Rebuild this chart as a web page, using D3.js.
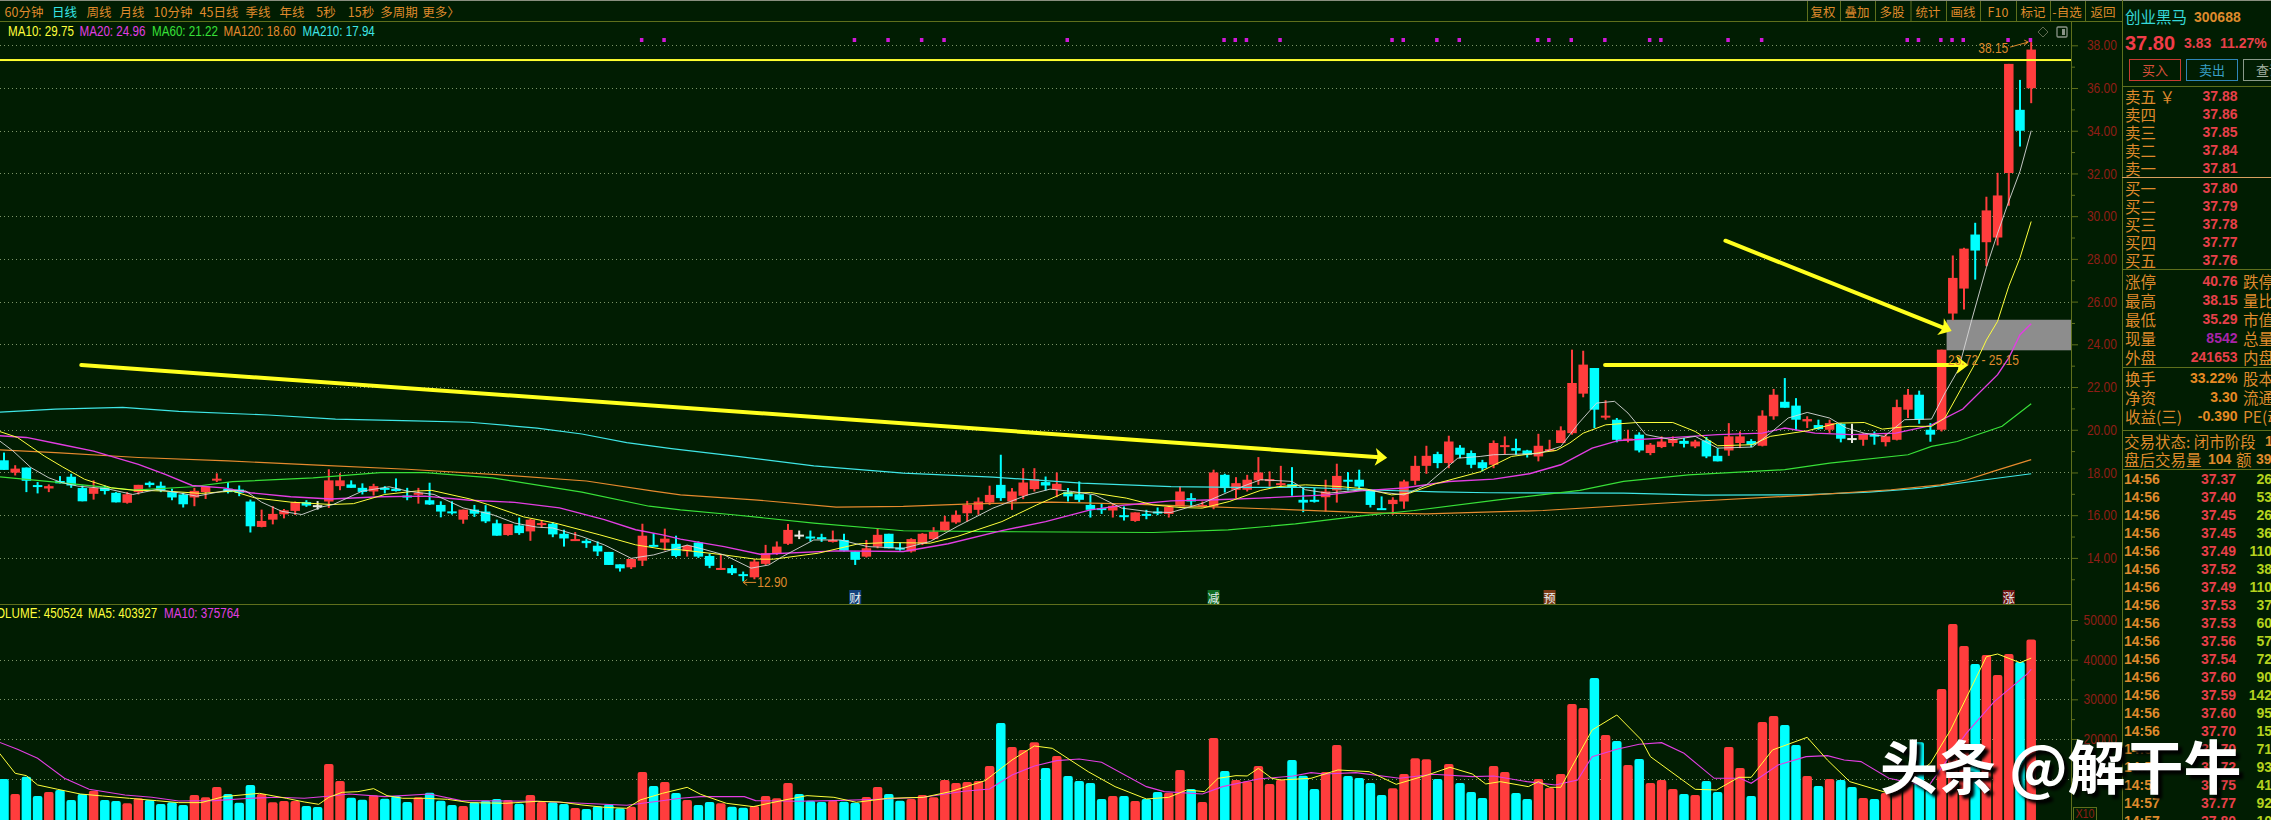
<!DOCTYPE html>
<html>
<head>
<meta charset="utf-8">
<script src="https://cdn.jsdelivr.net/npm/d3@7.9.0/dist/d3.min.js"></script>
<style>
  html, body { margin: 0; padding: 0; background: #011d02; overflow: hidden; }
  svg { display: block; }
  text { white-space: pre; }
</style>
</head>
<body>
<svg id="chart" width="2271" height="820"></svg>
<script>
// [high, body top, body bottom, low, direction] 1 = up, -1 = down, 0 = doji
const candleRows = [
  [18.93,18.57,18.12,18.12,-1],[18.34,18.18,17.99,17.86,1],[18.23,18.23,17.61,17.08,-1],[17.55,17.41,17.33,17.02,-1],
  [17.44,17.36,17.25,17.08,1],[17.83,17.6,17.49,17.49,-1],[17.94,17.8,17.39,17.28,-1],[17.39,17.27,16.65,16.65,-1],
  [17.63,17.27,17.0,16.73,1],[17.39,17.3,17.13,16.97,-1],[17.08,17.05,16.6,16.6,-1],[17.08,16.98,16.58,16.54,1],
  [17.42,17.42,17.08,16.97,1],[17.58,17.52,17.41,17.3,-1],[17.57,17.38,17.16,17.08,-1],[17.24,17.08,16.83,16.7,-1],
  [17.05,16.97,16.51,16.36,-1],[17.28,17.14,16.83,16.42,1],[17.36,17.33,17.08,16.76,1],[17.96,17.71,17.66,17.55,1],
  [17.55,17.24,17.08,17.02,-1],[17.39,17.2,17.05,16.89,-1],[16.73,16.64,15.48,15.19,-1],[16.26,15.73,15.45,15.43,1],
  [16.42,16.06,15.79,15.57,1],[16.29,16.23,16.04,15.85,1],[16.64,16.61,16.2,16.01,1],[16.7,16.61,16.45,16.39,-1],
  [16.66,16.47,16.4,16.26,0],[18.15,17.63,16.64,16.34,1],[17.96,17.63,17.36,17.17,1],[17.63,17.44,17.28,17.28,-1],
  [17.49,17.28,17.09,16.97,-1],[17.47,17.36,17.11,16.92,1],[17.36,17.28,17.2,17.02,-1],[17.72,17.24,17.13,17.11,-1],
  [17.28,16.92,16.87,16.7,-1],[17.28,17.05,17.0,16.54,1],[17.52,16.7,16.5,16.48,-1],[16.65,16.48,16.17,15.9,-1],
  [16.65,16.18,16.13,16.03,-1],[16.26,16.26,15.79,15.6,1],[16.48,16.26,16.07,15.92,-1],[16.47,16.17,15.71,15.63,-1],
  [15.79,15.62,15.04,15.04,-1],[15.59,15.59,15.07,15.04,1],[15.89,15.52,15.16,15.08,-1],[15.82,15.79,15.24,14.8,1],
  [15.76,15.63,15.54,15.41,1],[15.68,15.6,15.1,14.97,-1],[15.32,15.13,14.91,14.53,-1],[15.21,14.88,14.83,14.79,1],
  [14.88,14.8,14.69,14.47,-1],[14.77,14.57,14.3,14.09,-1],[14.28,14.28,13.67,13.67,-1],[13.7,13.7,13.51,13.36,-1],
  [13.98,13.95,13.56,13.48,1],[15.6,15.04,13.87,13.62,1],[15.16,14.61,14.57,14.57,-1],[15.37,14.9,14.72,14.35,1],
  [15.04,14.66,14.09,14.03,-1],[14.61,14.57,14.31,14.06,1],[14.77,14.72,14.06,14.0,-1],[14.2,14.09,13.63,13.52,-1],
  [14.14,13.53,13.47,13.44,1],[13.67,13.52,13.28,13.2,-1],[13.36,13.24,13.2,12.9,-1],[13.94,13.83,13.09,13.0,1],
  [14.61,14.22,13.72,13.67,1],[14.77,14.53,14.22,14.14,1],[15.59,15.31,14.66,14.61,1],[15.28,15.09,15.06,14.88,0],
  [15.28,15.0,14.95,14.77,-1],[15.13,14.97,14.89,14.75,-1],[15.28,14.84,14.78,14.72,1],[15.13,14.84,14.33,14.3,-1],
  [14.3,14.3,13.91,13.67,-1],[14.84,14.45,14.06,14.02,1],[15.39,15.08,14.53,14.45,1],[15.13,15.13,14.45,14.45,-1],
  [14.72,14.48,14.41,14.34,-1],[14.92,14.88,14.3,14.25,1],[15.16,15.13,14.66,14.6,1],[15.44,15.23,14.88,14.84,1],
  [15.97,15.7,15.28,15.23,1],[16.22,16.02,15.66,15.6,1],[16.67,16.48,16.09,15.7,1],[16.83,16.64,16.25,16.02,1],
  [17.38,16.95,16.59,16.48,1],[18.83,17.42,16.8,16.67,-1],[17.27,17.11,16.64,16.25,1],[18.2,17.53,16.91,16.75,1],
  [18.2,17.69,17.22,17.11,1],[17.81,17.55,17.39,17.16,-1],[18.0,17.47,17.19,16.84,1],[17.27,17.08,16.88,16.64,-1],
  [17.58,16.98,16.72,16.61,-1],[16.95,16.48,16.25,15.89,-1],[16.53,16.33,16.25,16.06,-1],[16.56,16.44,16.22,15.89,1],
  [16.41,16.0,15.94,15.75,-1],[16.13,16.13,15.73,15.69,1],[16.25,16.06,16.0,15.81,-1],[16.36,16.17,16.09,16.0,-1],
  [16.44,16.38,16.06,15.89,1],[17.34,17.11,16.41,16.41,1],[17.03,16.8,16.64,16.41,-1],[16.64,16.48,16.41,16.36,1],
  [18.13,18.0,16.41,16.28,1],[17.94,17.89,17.27,17.06,-1],[17.78,17.5,17.19,16.8,1],[17.89,17.66,17.19,17.11,1],
  [18.72,18.0,17.63,17.42,1],[18.05,17.69,17.63,17.34,1],[18.31,17.5,17.42,17.34,1],[18.25,17.45,17.3,16.91,-1],
  [17.3,16.72,16.59,16.14,-1],[17.27,16.72,16.64,16.59,-1],[17.66,17.11,16.84,16.17,1],[18.41,17.84,17.16,16.59,1],
  [18.02,17.66,17.58,17.16,-1],[18.13,17.66,17.34,17.19,-1],[17.19,17.19,16.48,16.36,-1],[16.88,16.33,16.25,16.25,-1],
  [16.84,16.72,16.52,16.02,1],[17.66,17.58,16.64,16.3,1],[18.78,18.31,17.61,17.42,1],[19.25,18.78,18.31,17.94,1],
  [18.97,18.86,18.44,18.2,-1],[19.72,19.45,18.44,18.2,1],[19.28,19.16,18.83,18.67,-1],[19.03,18.91,18.36,18.2,-1],
  [18.59,18.48,18.2,18.05,-1],[19.5,19.38,18.36,18.2,1],[19.69,19.28,19.22,18.86,1],[19.58,19.14,19.02,18.83,-1],
  [19.06,19.03,18.83,18.7,-1],[19.81,19.25,18.75,18.52,1],[19.53,19.09,19.03,19.03,1],[20.16,19.97,19.38,19.38,1],
  [23.75,22.19,19.84,19.77,1],[23.7,23.05,21.69,21.52,1],[22.89,22.89,20.94,20.08,-1],[21.38,20.66,20.59,20.47,1],
  [20.55,20.47,19.53,19.41,-1],[20.0,19.59,19.53,19.41,1],[19.88,19.77,19.03,18.94,-1],[19.38,19.3,18.91,18.81,1],
  [19.69,19.45,19.19,19.14,1],[19.69,19.56,19.38,19.22,1],[19.61,19.48,19.34,19.17,-1],[19.53,19.45,19.22,19.14,1],
  [19.66,19.5,18.75,18.67,-1],[19.14,18.78,18.52,18.52,-1],[20.31,19.69,19.03,18.78,1],[19.92,19.69,19.38,19.14,1],
  [19.56,19.47,19.3,19.19,-1],[20.91,20.66,19.25,19.22,1],[21.91,21.64,20.63,20.47,1],[22.42,21.31,21.03,21.03,-1],
  [21.48,21.13,20.47,19.97,-1],[20.63,20.5,20.39,20.08,1],[20.47,20.22,20.03,20.0,-1],[20.47,20.31,20.0,19.84,1],
  [20.31,20.28,19.58,19.41,-1],[20.28,19.61,19.56,19.38,0],[19.84,19.81,19.53,19.25,1],[19.92,19.77,19.69,19.3,-1],
  [19.84,19.69,19.42,19.22,1],[21.41,21.06,19.53,19.5,1],[21.91,21.64,20.94,20.55,1],[21.83,21.64,20.47,20.28,-1],
  [20.31,20.0,19.77,19.44,-1],[23.75,23.75,20.0,19.92,1],[28.16,27.11,25.44,25.13,1],[28.52,28.48,26.61,25.63,1],
  [29.69,29.14,28.39,27.03,-1],[30.91,30.27,28.78,27.66,1],[32.03,30.97,29.0,28.63,1],[37.13,37.13,32.02,30.49,1],
  [36.38,34.98,34.0,33.26,-1],[38.15,37.8,35.99,35.29,1]
];

const volumes = [
  9915,6134,10504,5630,6638,7143,4622,6134,6975,4622,4370,3781,5042,4622,3613,4034,3361,5882,5294,7899,
  6134,3949,8403,6134,4034,4370,4370,3109,2857,13697,9411,5210,4706,5798,4958,5630,4118,5294,6470,4454,
  3361,3109,4034,4454,4874,4622,3697,5882,4118,4034,3613,2605,2353,3025,3529,2521,2941,11680,8151,9159,
  6386,4622,3361,4118,3781,2941,2689,3109,5630,5042,8907,6134,4454,4118,4454,4202,3949,5378,7899,6134,
  4454,4874,5882,5294,9663,8907,9159,9411,13193,24033,17983,17226,19159,12689,15714,10672,9411,8907,4874,5630,
  5630,4370,4874,6638,6470,12185,7395,4118,20252,11933,9663,9327,13193,8655,9747,14705,10756,7395,11680,18487,
  10672,10168,8907,5882,7563,11176,15126,14873,9915,13697,8907,6638,5126,13193,11680,6386,4874,9915,7647,11176,
  28822,27815,35378,21008,19495,13445,14957,8907,9663,7395,6134,5882,9411,6638,17983,12689,5630,24285,25797,23529,
  18487,10672,8151,9915,9663,7899,5126,4874,6386,7311,9663,19159,7143,32604,48990,43444,38906,41175,36133,41427,
  39410,45052
];

// moving averages: [day index, value]
const ma5Line = [[-0.4,19.48],[0.8,19.01],[2.4,18.23],[4,17.75],[5.2,17.52],[6.6,17.36],[9.2,17.24],[11.5,16.97],[13.6,17.2],[15.6,17.05],[17.2,16.89],[20,17.17],[21.6,17.13],[23,16.61],[24.8,16.18],[26.6,16.03],[28.4,16.39],[29.4,16.5],[32,17.13],[34.4,17.33],[36,17.13],[38.4,16.97],[41,16.34],[43.6,16.03],[45.6,15.63],[47.6,15.44],[49,15.4],[51.6,15],[53.6,14.61],[56,13.98],[58,14.14],[59.6,14.38],[61,14.6],[62.5,14.4],[64.3,14.14],[66.7,13.52],[68.3,13.67],[69.5,14.06],[72.3,14.84],[74.7,14.84],[77.1,14.53],[80.3,14.45],[82.7,14.77],[85.1,15.47],[88.3,16.33],[91.4,16.95],[93.4,17.22],[95.4,17.11],[97.4,16.95],[99.8,16.33],[102.6,16.14],[104.2,16.13],[107,16.56],[109.8,17.19],[112.2,17.66],[115,17.58],[116.2,17.19],[118.2,17.03],[121.3,17.19],[125,16.95],[127,17.42],[129.8,18.67],[131.8,18.75],[133,18.83],[137,18.88],[139,19.22],[140.6,20.31],[142.2,21.25],[143.8,21.33],[145,20.78],[146.6,19.77],[149,19.53],[151,19.69],[153,19.14],[156.1,19.19],[157.7,19.84],[159.3,20.55],[161,20.81],[163,20.55],[164.5,20.08],[166.1,19.84],[167.9,19.69],[169.7,20.47],[172.1,20.5],[173.3,21.72],[174.5,22.81],[175.7,25.16],[177,27.6],[178,29.2],[179,30.7],[180,32.1],[181,34]];
const ma10Line = [[-0.4,19.92],[1.2,19.64],[3.6,18.77],[5.2,18.27],[7.2,17.68],[9.6,17.28],[11.6,17.17],[14.4,17.13],[17.6,17.02],[20.4,17.13],[22.4,16.81],[25.6,16.61],[29.2,16.5],[31.2,16.54],[34,16.97],[36.8,17.13],[38.2,17.16],[41.6,16.76],[43.2,16.5],[46.4,15.92],[49.2,15.63],[53.2,15.08],[56.4,14.61],[58.8,14.41],[60.4,14.38],[64.3,14.14],[67.1,13.94],[68.7,13.94],[72.7,14.22],[76.3,14.66],[79,14.72],[82.7,14.69],[85.1,15],[89.1,15.7],[92.2,16.48],[94.6,17.03],[97,17.06],[100.2,16.8],[102.6,16.48],[105,16.36],[107,16.33],[109.4,16.64],[112.2,17.16],[113.8,17.34],[116.2,17.42],[119.3,17.34],[121.7,17.22],[123.9,16.95],[125.5,17.03],[127.8,17.47],[131.8,18.03],[134.6,18.75],[138.6,19.03],[139.8,19.38],[141,19.84],[143,20.23],[145.8,20.34],[149,20.34],[151,19.92],[153,19.25],[156.1,19.3],[157.7,19.69],[161,19.95],[163.7,20.31],[166.1,20.34],[167.7,20.03],[170.1,20.16],[172.1,20.16],[173.3,20.55],[176.2,23.3],[177,24.2],[178,25.08],[179,26.72],[180,28.05],[181,29.75]];
const ma20Line = [[-0.4,19.72],[2,19.64],[5,19.32],[8,19.0],[12,18.38],[14.4,17.91],[16.8,17.39],[19.6,17.28],[22,17.05],[25.6,16.86],[29.2,16.76],[33.6,16.86],[37.6,16.89],[41.6,16.7],[45.6,16.6],[49.6,16.34],[53.6,15.79],[56.4,15.32],[58.8,15.08],[60.4,14.88],[64.3,14.53],[67.5,14.17],[74.3,14.33],[80.3,14.3],[84.3,14.66],[89.1,15.28],[93,15.7],[97,16.25],[100.2,16.48],[104.2,16.67],[108.2,16.72],[112.2,16.8],[118.2,16.95],[121.1,17.14],[125,17.27],[129,17.58],[133,17.69],[136.2,17.94],[139,18.36],[141.8,19.14],[144.2,19.5],[148.2,19.61],[153,19.77],[157,19.84],[159,20.08],[161.7,19.84],[164.9,19.77],[168.9,19.84],[172,20.19],[174.9,20.97],[178,22.58],[179,23.36],[180,24.45],[181,24.96]];
const ma60Line = [[-0.4,17.8],[4.6,17.55],[11.6,17.17],[16.8,17.33],[20.4,17.57],[27.6,17.75],[33.6,17.99],[37.6,17.99],[43.6,17.75],[51.6,17.08],[57.6,16.42],[60.4,16.25],[65.1,16.02],[72.3,15.63],[80.3,15.27],[88.3,15.23],[102.6,15.19],[109.3,15.31],[115.3,15.59],[121.4,15.98],[125.9,16.22],[133.4,16.72],[140.7,17.16],[144.6,17.58],[150.4,17.89],[159,18.13],[163,18.44],[170,18.83],[172.1,19.22],[174.4,19.45],[178.4,20.16],[181,21.22]];
const ma120Line = [[-0.4,19.06],[4.6,18.93],[12,18.7],[20,18.54],[28,18.34],[36,18.15],[44,17.9],[52,17.6],[58,17.13],[60.4,16.95],[67,16.72],[74.3,16.38],[80.3,16.41],[86.4,16.53],[93.5,16.61],[100,16.53],[106.6,16.41],[115.3,16.25],[122,16.11],[127,16.06],[131.4,16.13],[137.4,16.22],[150.5,16.64],[160.5,16.92],[168.5,17.19],[172.9,17.42],[175.3,17.66],[177.6,18.05],[181,18.6]];
const ma210Line = [[-0.4,20.82],[4.6,20.97],[10.6,21.05],[15.6,20.86],[23.6,20.69],[29.6,20.5],[36.6,20.42],[41.6,20.35],[47.6,20.08],[51.6,19.8],[55.6,19.4],[59.6,19.12],[65.1,18.78],[72.3,18.31],[80.3,17.97],[88.3,17.78],[96.2,17.5],[104.2,17.34],[110.2,17.3],[116.2,17.3],[121.4,17.19],[128,17.09],[132.6,17.05],[144.6,17.03],[151.8,16.94],[160.5,16.95],[166.5,17.08],[171.3,17.27],[176.9,17.66],[181,17.94]];
const volMa5Line = [[-0.4,16386],[1,11344],[2,10756],[3,8403],[4.8,7311],[6.8,6134],[8.8,5630],[11.2,5042],[13.6,4454],[15.6,3949],[17.6,3949],[19.6,5462],[22.8,6302],[25.2,5042],[26.8,4118],[28.1,3529],[29,5294],[30.2,6554],[31.6,6722],[33,7479],[34.2,5714],[35.6,5042],[37.6,5042],[39.6,4790],[41.6,3949],[44.8,3781],[47.6,4286],[49.6,4118],[51.6,3361],[53.6,2773],[55.6,2521],[56.8,4622],[58.8,6302],[61,7815],[62.2,6050],[64.5,3781],[66.9,2941],[69.7,4622],[71.7,5714],[74.1,5294],[76.1,4034],[78.9,5042],[82.1,5294],[84.5,6722],[87.6,9495],[90,14705],[92,18234],[93.6,17646],[96.8,11764],[99.2,7983],[102,4874],[104,5294],[105.6,7143],[107.2,6722],[108.4,10084],[110,10756],[111,10672],[112,12605],[113.2,10084],[114,9663],[116.7,10084],[119.1,12185],[121.9,11764],[124.3,8571],[127.1,10924],[129.1,12857],[131.1,11176],[132.3,8655],[133.6,9243],[136.1,7983],[137,9243],[138,7815],[139,7815],[140,13025],[141.8,22268],[144,26050],[146.2,19747],[147,15546],[151,7311],[152.9,7143],[154.9,10336],[156,10336],[157.9,17226],[161,20419],[162.8,14705],[164.8,9243],[168,6554],[170.8,11344],[172,13865],[173.8,22268],[177,40754],[178,41427],[180,39242],[181,40393]];
const volMa10Line = [[-0.4,19159],[1.2,17394],[3,15126],[5.4,10084],[7.6,7311],[10.8,5882],[13.2,5294],[15.6,4370],[18.8,4454],[22,5042],[24.4,5294],[26.8,5042],[29.2,5630],[30.8,6134],[34,5462],[38,6134],[40.8,4454],[47.6,4286],[51.6,3781],[55.6,3277],[58.4,4286],[60.4,5042],[62.2,5462],[66.1,5462],[67.1,4454],[70.9,4286],[74.1,4454],[78.1,4790],[82.1,5294],[85.7,6806],[88,7395],[90,10924],[92,13193],[94,14537],[96,14957],[98,14117],[102,7983],[103.6,6722],[107,6134],[108.8,7983],[112,9915],[115.1,10672],[116.7,11512],[117.9,11176],[120.7,11512],[124.6,10084],[127.6,11092],[131.1,10504],[133,10672],[136,9243],[138.5,8403],[140.5,9663],[141.8,15546],[144,17394],[146,18655],[148,19075],[150,16386],[152.7,10084],[155,10084],[156,8823],[158.4,13445],[160.9,15546],[162.8,15798],[164.3,14705],[165.8,14285],[168.3,10084],[171.8,7983],[175.2,21428],[177.7,29410],[180.7,36553],[181,37576]];

const priceLines = [
  { name: 'MA210', pts: ma210Line, color: '#3fe6e6', w: 1.2 },
  { name: 'MA120', pts: ma120Line, color: '#e58a2e', w: 1.2 },
  { name: 'MA60', pts: ma60Line, color: '#38e038', w: 1.2 },
  { name: 'MA20', pts: ma20Line, color: '#e23ee2', w: 1.4 },
  { name: 'MA10', pts: ma10Line, color: '#ffff3c', w: 1 },
  { name: 'MA5', pts: ma5Line, color: '#d8d8d8', w: 0.9 },
];

const signalDays = [57,59,76,79,82,84,95,109,110,111,114,124,125,128,130,137,138,140,143,147,148,154,157,170,171,173,174,175,179,181];
const noticeTags = [[76,'财','#14417c'],[108,'减','#0d6b22'],[138,'预','#7a3a16'],[179,'涨','#6e1414']];
// [from day, from price, to day, to price]
const drawnArrows = [[6.9,23.03,123.5,18.69],[142.95,23.03,175.4,23.03],[153.7,28.85,173.9,24.62]];
const supportZone = [23.72, 25.15];
const drawnLevel = 37.31;

const priceTicks = [14,16,18,20,22,24,26,28,30,32,34,36,38];
const priceMinorTicks = [13,15,17,19,21,23,25,27,29,31,33,35,37];
const volTicks = [10000,20000,30000,40000,50000];
const volMinorTicks = [15000,25000,35000,45000];

const leftTabs = [['60分钟',24],['日线',64.5,true],['周线',99],['月线',132],['10分钟',173],['45日线',219],['季线',258],['年线',292],['5秒',326],['15秒',361],['多周期',399],['更多〉',441]];
const rightTabs = [['复权',1823],['叠加',1857],['多股',1892],['统计',1928],['画线',1963],['F10',1998],['标记',2033],['-自选',2067],['返回',2103]];
const tabEdges = [1807,1840,1875,1910.5,1946,1980,2016,2050,2085];
const maLegend = [['MA10: 29.75','#ffff3c',8],['MA20: 24.96','#e23ee2',79.5],['MA60: 21.22','#38e038',152],['MA120: 18.60','#e58a2e',223.5],['MA210: 17.94','#3fe6e6',302.5]];

const askRows = [['卖五 ￥','37.88',96],['卖四','37.86',114],['卖三','37.85',132],['卖二','37.84',150],['卖一','37.81',168]];
const bidRows = [['买一','37.80',188],['买二','37.79',206],['买三','37.78',224],['买四','37.77',242],['买五','37.76',260]];
const statRows = [
  ['涨停','40.76','跌停','#e8404a',281],['最高','38.15','量比','#e8404a',300],['最低','35.29','市值','#e8404a',319],
  ['现量','8542','总量','#a824a8',338],['外盘','241653','内盘','#e8404a',357],
  ['换手','33.22%','股本','#e68a24',378],['净资','3.30','流通','#e68a24',397],['收益(三)','-0.390','PE(动)','#e68a24',416]
];
const tickTimes = ['14:56','14:56','14:56','14:56','14:56','14:56','14:56','14:56','14:56','14:56','14:56','14:56','14:56','14:56','14:56','14:56','14:56','14:56','14:57','14:57'];
const tickPrices = ['37.37','37.40','37.45','37.45','37.49','37.52','37.49','37.53','37.53','37.56','37.54','37.60','37.59','37.60','37.70','37.70','37.72','37.75','37.77','37.80'];
const tickSizes = ['26','53','26','36','110','38','110','37','60','57','72','90','142','95','15','71','93','41','92','10'];

const CN = '"Noto Sans CJK SC", sans-serif';
const NARROW = '"Liberation Sans", sans-serif';
const BOLD = '"Liberation Sans Bold", "Liberation Sans", sans-serif';
const NARROW_X = 0.83;
const ORANGE = '#df8a2c';
const AXIS = '#5f6f1c';
const RED = '#ff3d3d';
const CYAN = '#00ffff';

const plotRight = 2071;
const panelLeft = 2122;

const svg = d3.select('#chart');
svg.append('rect').attr('width', 2271).attr('height', 820).attr('fill', '#011d02');

const x = d3.scaleLinear().domain([0, 181]).range([4, 2031.2]);
const y = d3.scaleLinear().domain([38, 14]).range([45.3, 557.9]);
const yVol = d3.scaleLinear().domain([0, 50000]).range([818.3, 620]);

function put(parent, str, px, py, fill, size, family, anchor = 'start', weight = 400) {
  const t = parent.append('text')
    .attr('fill', fill)
    .attr('font-size', size)
    .attr('font-family', family)
    .attr('font-weight', weight)
    .attr('text-anchor', anchor)
    .attr('dominant-baseline', 'central')
    .text(str);
  // the terminal font is condensed, no narrow face installed so squeeze it
  if (family === NARROW) {
    t.attr('transform', `translate(${px},${py}) scale(${NARROW_X},1)`);
  } else {
    t.attr('x', px).attr('y', py);
  }
  return t;
}

function hline(parent, x1, x2, py, color, dash) {
  parent.append('line')
    .attr('x1', x1).attr('x2', x2)
    .attr('y1', py).attr('y2', py)
    .attr('stroke', color)
    .attr('stroke-dasharray', dash || null)
    .attr('shape-rendering', 'crispEdges');
}

// grid
const grid = svg.append('g');
for (const t of priceTicks) hline(grid, 0, plotRight, Math.round(y(t)) + 0.5, '#7c9468', '1 3');
for (const t of volTicks.slice(0, 4)) hline(grid, 0, plotRight, Math.round(yVol(t)) + 0.5, '#7c9468', '1 3');

// frame
const frame = svg.append('g');
hline(frame, 0, 2271, 0.5, '#8a8f80');
hline(frame, 0, panelLeft, 21.5, AXIS);
hline(frame, 0, plotRight, 604.5, AXIS);
frame.append('line').attr('x1', plotRight + 0.5).attr('x2', plotRight + 0.5).attr('y1', 22).attr('y2', 820).attr('stroke', AXIS);
frame.append('line').attr('x1', panelLeft + 0.5).attr('x2', panelLeft + 0.5).attr('y1', 0).attr('y2', 820).attr('stroke', AXIS);
for (const e of tabEdges) {
  frame.append('line').attr('x1', e + 0.5).attr('x2', e + 0.5).attr('y1', 1).attr('y2', 21).attr('stroke', AXIS);
}

// price axis
function styleAxis(g) {
  g.select('.domain').remove();
  g.selectAll('.tick line').attr('stroke', AXIS);
  g.selectAll('.tick text')
    .attr('fill', '#8f1d16')
    .attr('font-size', 14.5)
    .attr('font-family', NARROW)
    .attr('text-anchor', 'end')
    .attr('x', 0)
    .attr('transform', `translate(46,0) scale(${NARROW_X},1)`);
}
svg.append('g').attr('transform', `translate(${plotRight},0)`)
  .call(d3.axisRight(y).tickValues(priceTicks).tickSize(7).tickFormat(d3.format('.2f')))
  .call(styleAxis);
svg.append('g').attr('transform', `translate(${plotRight},0)`)
  .call(d3.axisRight(y).tickValues(priceMinorTicks).tickSize(4).tickFormat(''))
  .call(styleAxis);
svg.append('g').attr('transform', `translate(${plotRight},0)`)
  .call(d3.axisRight(yVol).tickValues(volTicks).tickSize(7).tickFormat(d3.format('d')))
  .call(styleAxis);
svg.append('g').attr('transform', `translate(${plotRight},0)`)
  .call(d3.axisRight(yVol).tickValues(volMinorTicks).tickSize(4).tickFormat(''))
  .call(styleAxis);

// support zone, candles behind the averages
svg.append('rect')
  .attr('x', x(173) + 5).attr('width', plotRight - x(173) - 5)
  .attr('y', y(supportZone[1])).attr('height', y(supportZone[0]) - y(supportZone[1]))
  .attr('fill', '#8d8d8d');

const candleColor = (d) => (d[4] > 0 ? RED : d[4] < 0 ? CYAN : '#e8e8e0');

const candles = svg.append('g').selectAll('g').data(candleRows).join('g');
candles.append('rect')
  .attr('x', (d, i) => x(i) - 1)
  .attr('width', 2)
  .attr('y', (d) => y(d[0]))
  .attr('height', (d) => y(d[3]) - y(d[0]))
  .attr('fill', candleColor);
candles.append('rect')
  .attr('x', (d, i) => x(i) - 4.75)
  .attr('width', 9.5)
  .attr('y', (d) => y(d[1]))
  .attr('height', (d) => Math.max(2, y(d[2]) - y(d[1])))
  .attr('fill', candleColor);

// volume bars
svg.append('g').selectAll('rect').data(volumes).join('rect')
  .attr('x', (d, i) => x(i) - 4.75)
  .attr('width', 9.5)
  .attr('y', (d) => yVol(d))
  .attr('height', (d) => 824 - yVol(d))
  .attr('rx', 2)
  .attr('fill', (d, i) => (candleRows[i][4] > 0 ? RED : CYAN));

// moving averages
const priceLine = d3.line().x((d) => x(d[0])).y((d) => y(d[1]));
const volLine = d3.line().x((d) => x(d[0])).y((d) => yVol(d[1]));
svg.append('g').selectAll('path').data(priceLines).join('path')
  .attr('d', (d) => priceLine(d.pts))
  .attr('fill', 'none')
  .attr('stroke', (d) => d.color)
  .attr('stroke-width', (d) => d.w);
svg.append('path').attr('d', volLine(volMa10Line)).attr('fill', 'none').attr('stroke', '#e23ee2').attr('stroke-width', 1.1);
svg.append('path').attr('d', volLine(volMa5Line)).attr('fill', 'none').attr('stroke', '#ffff3c').attr('stroke-width', 1);

// signal dots on the top row
svg.append('g').selectAll('rect').data(signalDays).join('rect')
  .attr('x', (d) => x(d) - 2.5)
  .attr('y', 38)
  .attr('width', 3.5)
  .attr('height', 4)
  .attr('fill', '#d018d8');

// notice tags above the volume pane
const tags = svg.append('g');
for (const [day, str, color] of noticeTags) {
  tags.append('rect').attr('x', x(day) - 6).attr('y', 590).attr('width', 12).attr('height', 14).attr('fill', color);
  put(tags, str, x(day), 597, '#e8f0f0', 12, CN, 'middle');
}

// drawn level + arrows
svg.append('rect').attr('x', 0).attr('width', plotRight).attr('y', y(drawnLevel) - 1).attr('height', 2).attr('fill', '#ffff30');

const arrows = svg.append('g');
for (const [d0, p0, d1, p1] of drawnArrows) {
  const [x0, y0, x1, y1] = [x(d0), y(p0), x(d1), y(p1)];
  const a = Math.atan2(y1 - y0, x1 - x0);
  const cs = Math.cos(a), sn = Math.sin(a);
  const pt = (back, side) => `${x1 - back * cs - side * sn},${y1 - back * sn + side * cs}`;
  arrows.append('line')
    .attr('x1', x0).attr('y1', y0).attr('x2', x1 - 8 * cs).attr('y2', y1 - 8 * sn)
    .attr('stroke', '#ffff1e').attr('stroke-width', 4).attr('stroke-linecap', 'round');
  arrows.append('polygon')
    .attr('points', [pt(0, 0), pt(12, 9), pt(10, 3), pt(10, -3), pt(12, -9)].join(' '))
    .attr('fill', '#ffff1e');
}

// annotations on the chart
const notes = svg.append('g');
put(notes, '23.72 - 25.15', 1948, 360, ORANGE, 14.5, NARROW);
put(notes, '12.90', x(66) + 14, y(12.9) + 1, ORANGE, 14.5, NARROW);
notes.append('path')
  .attr('d', `M${x(66) + 13},${y(12.9) + 1}H${x(66)}l4,-3m-4,3l4,3`)
  .attr('fill', 'none').attr('stroke', ORANGE);
put(notes, '38.15', x(181) - 53, y(38.15) + 6, ORANGE, 14.5, NARROW);
notes.append('path')
  .attr('d', `M${x(181) - 21},${y(38.15) + 5}L${x(181) - 3},${y(38.15)}l-4,-2m4,2l-4,3`)
  .attr('fill', 'none').attr('stroke', ORANGE);
notes.append('path').attr('d', 'M2043,27l5,5l-5,5l-5,-5z').attr('fill', 'none').attr('stroke', '#5e6a50');
notes.append('rect').attr('x', 2057).attr('y', 27).attr('width', 10).attr('height', 10).attr('rx', 1).attr('fill', 'none').attr('stroke', '#8a9488').attr('stroke-width', 1.3);
notes.append('rect').attr('x', 2062).attr('y', 29).attr('width', 3).attr('height', 6).attr('fill', '#8a9488');

// legends
const legends = svg.append('g');
for (const [str, color, px] of maLegend) put(legends, str, px, 31, color, 14, NARROW);
put(legends, 'VOLUME: 450524', 82.6, 613, '#ffff3c', 14, NARROW, 'end');
put(legends, 'MA5: 403927', 88, 613, '#ffff3c', 14, NARROW);
put(legends, 'MA10: 375764', 164, 613, '#e23ee2', 14, NARROW);

// tabs
const tabs = svg.append('g');
for (const [str, px, active] of leftTabs) {
  put(tabs, str, px, 11, active ? '#35e6e6' : ORANGE, 12.5, CN, 'middle');
}
for (const [str, px] of rightTabs) put(tabs, str, px, 11, ORANGE, 12.5, CN, 'middle');

// x10 box for the volume axis
svg.append('rect').attr('x', 2073.5).attr('y', 807.5).attr('width', 23).attr('height', 14).attr('fill', 'none').attr('stroke', AXIS);
put(svg, 'X10', 2085, 814, '#8f1d16', 13, NARROW, 'middle');

// right panel
const panel = svg.append('g');
put(panel, '创业黑马', 2125, 16, '#35d8d8', 15.5, CN);
put(panel, '300688', 2194, 17, ORANGE, 14, BOLD, 'start', 700);
put(panel, '37.80', 2125, 43, '#f03c48', 20, BOLD, 'start', 700);
put(panel, '3.83', 2184, 43, '#e8404a', 14, BOLD, 'start', 700);
put(panel, '11.27%', 2220, 43, '#e8404a', 14, BOLD, 'start', 700);

const buttons = [['买入', 2129, '#c83a32'], ['卖出', 2186, '#2f86b8'], ['查询', 2243, '#8a9a8a']];
for (const [str, px, color] of buttons) {
  panel.append('rect').attr('x', px + 0.5).attr('y', 59.5).attr('width', 51).attr('height', 21).attr('fill', 'none').attr('stroke', color);
  put(panel, str, px + 26, 69, color === '#c83a32' ? '#d8503a' : color === '#2f86b8' ? '#38a0c8' : '#a0b0a0', 13, CN, 'middle');
}

hline(panel, panelLeft, 2271, 86.5, AXIS);
hline(panel, panelLeft, 2271, 177.5, '#d8a060');
hline(panel, panelLeft, 2271, 269.5, AXIS);
hline(panel, panelLeft, 2271, 367.5, AXIS);
hline(panel, panelLeft, 2271, 430.5, AXIS);
hline(panel, panelLeft, 2271, 469.5, AXIS);

for (const [label, value, py] of [...askRows, ...bidRows]) {
  put(panel, label, 2125, py, ORANGE, 15.5, CN);
  put(panel, value, 2237.5, py, '#e8404a', 14, BOLD, 'end', 700);
}
for (const [label, value, label2, color, py] of statRows) {
  put(panel, label, 2125, py, ORANGE, 15.5, CN);
  put(panel, value, 2237.5, py, color, 14, BOLD, 'end', 700);
  put(panel, label2, 2243, py, ORANGE, 15.5, CN);
}
put(panel, '交易状态: 闭市阶段', 2124, 441, ORANGE, 15.5, CN);
put(panel, '1', 2265, 441, ORANGE, 14, BOLD, 'start', 700);
put(panel, '盘后交易量', 2124, 459, ORANGE, 15.5, CN);
put(panel, '104', 2208, 459, ORANGE, 14, BOLD, 'start', 700);
put(panel, '额', 2236, 459, ORANGE, 15.5, CN);
put(panel, '39', 2256, 459, ORANGE, 14, BOLD, 'start', 700);

const tickRows = panel.append('g').selectAll('g').data(tickTimes).join('g')
  .attr('transform', (d, i) => `translate(0,${479 + i * 18})`);
tickRows.each(function (d, i) {
  const row = d3.select(this);
  put(row, d, 2124, 0, ORANGE, 14, BOLD, 'start', 700);
  put(row, tickPrices[i], 2236, 0, '#e8404a', 14, BOLD, 'end', 700);
  put(row, tickSizes[i], 2272, 0, '#b4d21e', 14, BOLD, 'end', 700);
});

// watermark
const defs = svg.append('defs');
defs.append('filter').attr('id', 'soft').append('feGaussianBlur').attr('stdDeviation', 1.6);
const mark = svg.append('g');
const markX = 1880;
const markY = 764;
put(mark, '头条 @解干牛', markX + 4, markY + 4, '#000', 58, CN, 'start', 700).attr('filter', 'url(#soft)');
put(mark, '头条 @解干牛', markX, markY, '#fff', 58, CN, 'start', 700);
</script>
</body>
</html>
